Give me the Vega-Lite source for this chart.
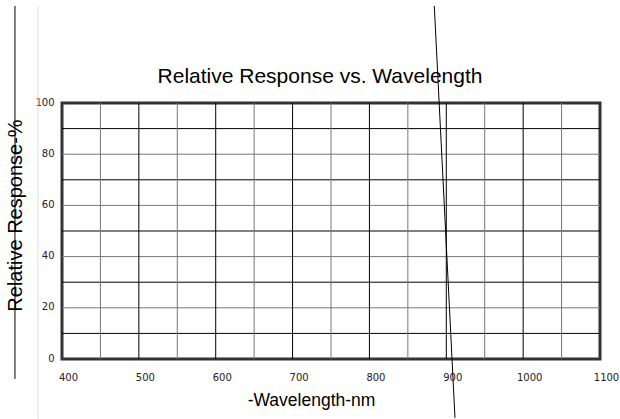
{
  "$schema": "https://vega.github.io/schema/vega-lite/v6.json",
  "autosize": {"type": "none"},
  "width": 538,
  "height": 256,
  "padding": {"left": 62, "top": 103, "right": 20, "bottom": 60},
  "background": "white",
  "view": {"stroke": "#333", "strokeWidth": 3},
  "title": {
    "text": "Relative Response vs. Wavelength",
    "font": "Liberation Sans",
    "fontSize": 21,
    "fontWeight": "normal",
    "color": "black",
    "anchor": "middle",
    "dx": -11,
    "offset": 0,
    "dy": 83
  },
  "datasets": {
    "curve": [
      {"wavelength": 884.4, "response": 137.9},
      {"wavelength": 911.3, "response": -23.0}
    ],
    "rules": [
      {"wavelength": 338.8, "top": 137.9, "bottom": -7.8, "kind": "a"},
      {"wavelength": 368.8, "top": 137.9, "bottom": -23.4, "kind": "b"}
    ],
    "hgrid": [{"v": 10}, {"v": 20}, {"v": 30}, {"v": 40}, {"v": 50}, {"v": 60}, {"v": 70}, {"v": 80}, {"v": 90}],
    "vgrid": [{"w": 450}, {"w": 500}, {"w": 550}, {"w": 600}, {"w": 650}, {"w": 700}, {"w": 750}, {"w": 800}, {"w": 850}, {"w": 900}, {"w": 950}, {"w": 1000}, {"w": 1050}]
  },
  "config": {
    "axis": {
      "labelFont": "DejaVu Sans",
      "labelFontSize": 10,
      "labelColor": "#222",
      "titleFont": "Liberation Sans",
      "titleFontWeight": "normal",
      "titleColor": "black",
      "domain": false,
      "ticks": false,
      "grid": false
    }
  },
  "layer": [
    {
      "data": {"name": "hgrid"},
      "mark": {"type": "rule", "strokeWidth": 1},
      "encoding": {
        "y": {"field": "v", "type": "quantitative"},
        "color": {
          "condition": {"test": "datum.v % 20 === 0", "value": "#777"},
          "value": "black"
        }
      }
    },
    {
      "data": {"name": "vgrid"},
      "mark": {"type": "rule", "strokeWidth": 1},
      "encoding": {
        "x": {"field": "w", "type": "quantitative"},
        "color": {
          "condition": {"test": "datum.w % 100 === 0", "value": "black"},
          "value": "#777"
        }
      }
    },
    {
      "data": {"name": "curve"},
      "mark": {"type": "line", "color": "black", "strokeWidth": 1, "clip": false},
      "encoding": {
        "x": {
          "field": "wavelength",
          "type": "quantitative",
          "scale": {"domain": [400, 1100], "nice": false, "zero": false},
          "axis": {
            "title": "-Wavelength-nm",
            "titleFontSize": 17.5,
            "values": [400, 500, 600, 700, 800, 900, 1000, 1100],
            "format": "d",
            "labelFlush": false,
            "labelPadding": 13,
            "labelOffset": 6,
            "titleX": 249,
            "titleY": 41,
            "titleBaseline": "middle"
          }
        },
        "y": {
          "field": "response",
          "type": "quantitative",
          "scale": {"domain": [0, 100], "nice": false},
          "axis": {
            "title": "Relative Response-%",
            "titleFontSize": 20,
            "values": [0, 20, 40, 60, 80, 100],
            "labelPadding": 8,
            "labelOffset": -1,
            "titleX": -47,
            "titleY": 112,
            "titleAngle": -90,
            "titleBaseline": "middle"
          }
        }
      }
    },
    {
      "data": {"name": "rules"},
      "mark": {"type": "rule", "strokeWidth": 1, "clip": false},
      "encoding": {
        "x": {"field": "wavelength", "type": "quantitative"},
        "y": {"field": "top", "type": "quantitative"},
        "y2": {"field": "bottom"},
        "color": {
          "field": "kind",
          "type": "nominal",
          "scale": {"domain": ["a", "b"], "range": ["black", "#dddddd"]},
          "legend": null
        }
      }
    }
  ]
}
